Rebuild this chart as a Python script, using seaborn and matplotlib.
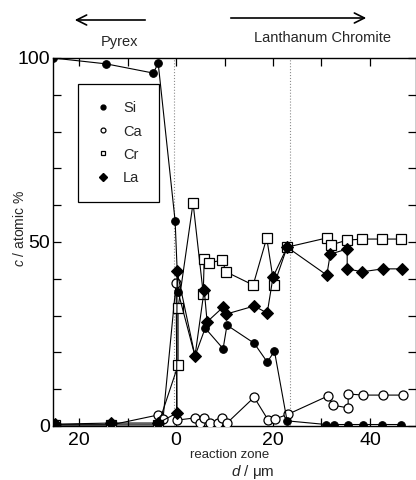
import matplotlib
matplotlib.use("Agg")
import matplotlib.pyplot as plt
import seaborn as sns
import pandas as pd
from matplotlib.lines import Line2D

sns.set_style("ticks")
plt.rcParams['font.family'] = ['Liberation Sans', 'DejaVu Sans']
plt.rcParams['mathtext.fontset'] = 'custom'
plt.rcParams['mathtext.it'] = 'Liberation Sans:italic'

# ---- data (d in micrometre, concentration in atomic %) ----
si_d = [-25.4, -14.4, -4.7, -3.7, -0.2, 0.4, 3.9, 6.0, 9.7, 10.5, 16.1, 18.8, 20.3, 22.9, 31.0, 32.5, 35.5, 38.5, 42.5, 46.5]
si_c = [100.0, 98.4, 95.9, 98.6, 55.7, 36.5, 19.0, 26.6, 21.0, 27.4, 22.5, 17.4, 20.3, 1.4, 0.4, 0.4, 0.4, 0.4, 0.4, 0.4]

ca_d = [-25.0, -13.4, -3.7, -2.7, 0.0, 0.2, 3.9, 5.0, 5.8, 7.0, 8.7, 9.5, 10.5, 16.1, 19.0, 20.4, 23.1, 31.4, 32.3, 35.5, 35.5, 38.6, 42.7, 46.8]
ca_c = [0.3, 0.3, 3.0, 1.9, 38.8, 1.6, 2.2, 0.8, 2.2, 0.8, 0.8, 2.2, 0.8, 7.8, 1.6, 1.9, 3.2, 8.2, 5.7, 4.9, 8.7, 8.4, 8.4, 8.4]

cr_d = [-25.0, -13.4, -3.7, 0.4, 0.4, 3.5, 5.6, 5.8, 6.8, 9.5, 10.3, 15.9, 18.7, 20.2, 22.9, 31.1, 31.9, 35.3, 38.4, 42.5, 46.4]
cr_c = [0.3, 0.3, 0.3, 16.5, 32.0, 60.6, 36.0, 45.4, 44.3, 45.1, 41.9, 38.3, 51.1, 38.3, 48.6, 51.1, 49.2, 50.5, 50.8, 50.8, 50.8]

la_d = [-25.0, -13.4, -3.7, 0.1, 0.2, 3.9, 5.8, 6.4, 9.7, 10.3, 16.1, 18.8, 20.0, 22.9, 31.1, 31.8, 35.3, 35.3, 38.4, 42.6, 46.6]
la_c = [0.5, 0.8, 0.8, 3.5, 42.0, 19.0, 37.0, 28.3, 32.3, 30.4, 32.6, 30.7, 40.5, 48.6, 41.0, 46.7, 48.1, 42.7, 41.9, 42.7, 42.7]

elements = ["Si", "Ca", "Cr", "La"]
x_ticks = [-20, 0, 20, 40]
x_tick_labels = ["20", "0", "20", "40"]
y_ticks = [0, 50, 100]
y_tick_labels = ["0", "50", "100"]

fig = plt.figure(figsize=(4.16, 4.80), dpi=100)
ax = fig.add_axes([53/416, 54/480, 1 - 53/416, 368/480])

styles = {
    "Si": dict(marker="o", markersize=5.5, markerfacecolor="black", markeredgecolor="black"),
    "Ca": dict(marker="o", markersize=6.5, markerfacecolor="white", markeredgecolor="black", markeredgewidth=0.9),
    "Cr": dict(marker="s", markersize=6.5, markerfacecolor="white", markeredgecolor="black", markeredgewidth=0.9),
    "La": dict(marker="D", markersize=6.0, markerfacecolor="black", markeredgecolor="black"),
}
series = {"Si": (si_d, si_c), "Ca": (ca_d, ca_c), "Cr": (cr_d, cr_c), "La": (la_d, la_c)}

# dotted guide lines (reaction zone boundaries)
ax.axvline(-0.5, color="0.55", lw=0.8, ls=":", zorder=1)
ax.axvline(23.5, color="0.55", lw=0.8, ls=":", zorder=1)

for i, el in enumerate(["Ca", "Cr", "Si", "La"]):
    d, c = series[el]
    df = pd.DataFrame({"d": d, "c": c})
    sns.lineplot(data=df, x="d", y="c", sort=False, ax=ax, color="black",
                 lw=0.8, estimator=None, zorder=3 + i, **styles[el])

ax.set_xlim(-25.4, 49.5)
ax.set_ylim(0, 100)
ax.set_xticks(range(-20, 50, 10))
ax.set_xticklabels(["20", "", "0", "", "20", "", "40"])
ax.set_yticks(range(0, 101, 10))
ax.set_yticklabels([lab if v in y_ticks else "" for v, lab in
                    zip(range(0, 101, 10), [("%d" % v) for v in range(0, 101, 10)])])
ax.tick_params(axis="both", direction="in", length=6, width=0.9,
               top=True, right=True, labelsize=14, colors="black")
ax.tick_params(axis="x", pad=4)
ax.tick_params(axis="y", pad=2)
for s in ax.spines.values():
    s.set_linewidth(1.0)
    s.set_color("black")
ax.set_xlabel("")
ax.set_ylabel("")

# y-axis label
fig.text(20/416, 1 - 228/480, "$c$ / atomic %", rotation=90, ha="center", va="center", fontsize=10)

# x-axis labels
fig.text(230/416, 1 - 455/480, "reaction zone", ha="center", va="center", fontsize=9.5)
fig.text(253/416, 1 - 472/480, "$d$ / μm", ha="center", va="center", fontsize=11)

# legend
handles = []
leg_sizes = {"Si": 3.5, "Ca": 3.5, "Cr": 3.5, "La": 4}
for el in elements:
    st = dict(styles[el])
    st["markersize"] = leg_sizes[el]
    handles.append(Line2D([], [], linestyle="none", **st))
leg = ax.legend(handles, elements, loc="upper left", bbox_to_anchor=(78/416, 1 - 84/480),
                bbox_transform=fig.transFigure, borderaxespad=0, fontsize=10.5,
                frameon=True, fancybox=False, edgecolor="black", framealpha=1,
                handlelength=1.0, handletextpad=0.9, labelspacing=0.62, borderpad=1.2)
leg.get_frame().set_linewidth(0.9)

# top annotations with arrows
fig.patches  # keep figure-level drawing
ax.annotate("", xy=(72/416, 1 - 20/480), xytext=(148/416, 1 - 20/480),
            xycoords="figure fraction", textcoords="figure fraction",
            arrowprops=dict(arrowstyle="->", lw=1.2, color="black", mutation_scale=18))
ax.annotate("", xy=(369/416, 1 - 18/480), xytext=(228/416, 1 - 18/480),
            xycoords="figure fraction", textcoords="figure fraction",
            arrowprops=dict(arrowstyle="->", lw=1.2, color="black", mutation_scale=18))
fig.text(119/416, 1 - 42/480, "Pyrex", ha="center", va="center", fontsize=10.5)
fig.text(322/416, 1 - 38/480, "Lanthanum Chromite", ha="center", va="center", fontsize=10.5)

fig.savefig("out.png", dpi=100)
